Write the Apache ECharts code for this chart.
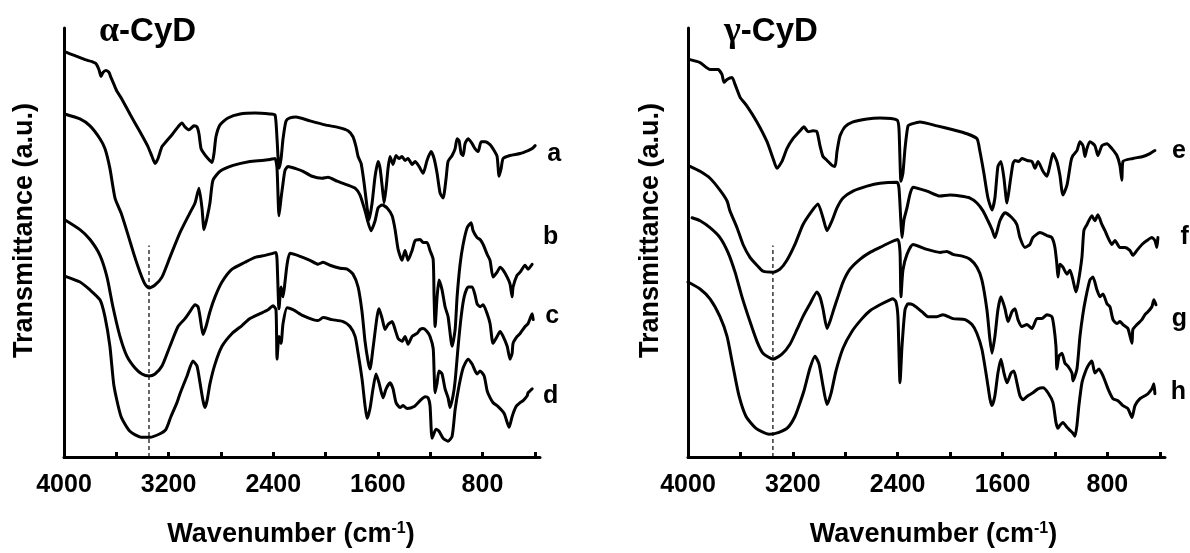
<!DOCTYPE html>
<html>
<head>
<meta charset="utf-8">
<script src="https://cdn.jsdelivr.net/npm/echarts@6/dist/echarts.min.js"></script>
<style>
  html, body { margin: 0; padding: 0; background: #fff; }
  #chart { width: 1190px; height: 553px; }
</style>
</head>
<body>
<div id="chart"></div>
<script>
// FT-IR spectra, [wavenumber (cm-1), transmittance (a.u., stacked offsets)]
const specA = [[3995,410],[3916,406],[3840,402],[3786,400],[3756,398],[3733,392],[3717,385],[3702,389],[3679,391],[3656,389],[3641,384],[3618,377],[3595,370],[3557,362],[3496,347],[3419,329],[3358,314],[3327,304],[3304,297],[3281,302],[3251,314],[3220,319],[3174,326],[3128,334],[3098,338],[3075,334],[3044,331],[3006,335],[2983,334],[2968,327],[2952,312],[2929,307],[2899,302],[2868,298],[2853,307],[2838,324],[2807,336],[2746,343],[2654,347],[2539,348],[2425,347],[2386,346],[2371,322],[2356,292],[2340,302],[2325,322],[2302,340],[2272,343],[2226,344],[2119,340],[2004,336],[1889,333],[1828,330],[1790,324],[1767,314],[1751,304],[1728,297],[1705,277],[1682,252],[1667,240],[1644,257],[1621,284],[1598,299],[1583,292],[1567,274],[1552,257],[1537,272],[1522,292],[1507,304],[1484,296],[1461,305],[1438,302],[1415,304],[1392,300],[1369,302],[1338,296],[1315,299],[1285,294],[1254,287],[1224,300],[1193,309],[1170,302],[1147,287],[1124,267],[1101,262],[1078,282],[1063,299],[1032,305],[1009,312],[994,322],[979,320],[963,307],[948,305],[933,317],[910,322],[879,317],[857,312],[833,309],[810,319],[780,319],[742,316],[711,310],[688,304],[673,284],[657,292],[642,302],[589,305],[512,307],[451,310],[420,312],[397,315]];

const specB = [[3995,347],[3878,342],[3801,335],[3725,322],[3687,312],[3649,292],[3610,262],[3564,247],[3511,225],[3465,205],[3419,187],[3381,175],[3350,171],[3304,174],[3251,182],[3190,202],[3113,227],[3037,247],[2998,257],[2968,272],[2945,252],[2929,230],[2906,242],[2884,257],[2861,280],[2807,289],[2707,295],[2578,299],[2486,300],[2425,301],[2386,302],[2371,292],[2356,244],[2340,262],[2325,277],[2310,290],[2287,294],[2233,292],[2172,289],[2103,284],[2027,282],[1981,283],[1912,279],[1828,275],[1774,272],[1736,265],[1698,249],[1652,229],[1621,239],[1598,252],[1567,255],[1529,252],[1491,244],[1468,230],[1445,210],[1415,199],[1392,209],[1369,199],[1338,209],[1315,219],[1277,220],[1254,217],[1224,217],[1201,209],[1177,200],[1170,162],[1162,132],[1147,162],[1132,179],[1109,169],[1086,152],[1063,142],[1032,112],[1009,129],[994,162],[971,195],[948,215],[917,232],[887,237],[872,229],[841,222],[818,220],[795,215],[764,205],[742,199],[719,182],[688,187],[665,192],[642,189],[611,182],[589,175],[573,162],[566,172],[535,184],[512,187],[474,194],[451,190],[420,195]];

const specC = [[3995,240],[3878,230],[3801,220],[3725,204],[3671,182],[3626,152],[3572,122],[3519,102],[3457,90],[3404,84],[3350,82],[3304,84],[3251,92],[3190,112],[3128,132],[3075,140],[3037,147],[2998,154],[2975,152],[2960,142],[2937,124],[2914,132],[2884,147],[2845,162],[2792,177],[2715,190],[2616,197],[2539,202],[2463,204],[2402,206],[2379,207],[2371,200],[2356,150],[2340,172],[2325,162],[2310,177],[2294,195],[2272,206],[2195,203],[2119,199],[2057,195],[2019,197],[1966,194],[1889,191],[1835,190],[1790,185],[1751,172],[1721,147],[1698,117],[1675,97],[1660,89],[1637,110],[1606,142],[1591,150],[1567,140],[1545,129],[1522,134],[1491,137],[1468,129],[1445,120],[1415,117],[1392,122],[1369,114],[1338,122],[1300,125],[1277,129],[1254,130],[1224,127],[1201,122],[1177,110],[1170,87],[1162,65],[1147,75],[1132,87],[1109,84],[1086,69],[1063,60],[1048,50],[1025,62],[1009,77],[986,112],[963,142],[940,162],[910,172],[879,172],[857,164],[841,155],[818,152],[795,154],[764,145],[742,135],[719,115],[688,122],[665,127],[642,122],[611,112],[589,99],[573,105],[566,115],[535,122],[512,125],[474,132],[451,135],[420,145],[412,139]];

const specD = [[3995,183],[3878,177],[3801,169],[3725,159],[3687,142],[3649,112],[3618,72],[3564,41],[3496,26],[3411,20],[3343,20],[3274,23],[3220,28],[3182,41],[3136,55],[3113,64],[3059,82],[3014,97],[2983,92],[2960,75],[2937,57],[2922,50],[2906,57],[2884,74],[2845,94],[2792,112],[2715,125],[2639,133],[2578,140],[2501,145],[2440,149],[2402,153],[2379,149],[2371,99],[2356,122],[2340,115],[2325,135],[2294,151],[2249,149],[2172,143],[2096,139],[2057,138],[2019,141],[1950,139],[1866,137],[1813,132],[1774,122],[1751,105],[1721,79],[1698,52],[1682,39],[1660,49],[1637,69],[1614,84],[1591,75],[1560,60],[1537,69],[1507,75],[1484,69],[1461,55],[1430,50],[1407,52],[1377,49],[1323,51],[1277,57],[1239,61],[1216,60],[1201,52],[1185,19],[1155,28],[1132,26],[1101,19],[1063,16],[1032,21],[1009,48],[979,72],[948,90],[910,99],[879,94],[841,84],[818,87],[787,82],[764,67],[742,60],[719,55],[680,51],[634,44],[611,35],[596,30],[573,41],[543,51],[512,55],[489,57],[458,62],[451,65],[420,69]];

const specE = [[3985,402],[3908,399],[3832,392],[3771,392],[3741,387],[3725,379],[3702,382],[3664,384],[3641,377],[3618,369],[3603,364],[3550,355],[3474,339],[3397,319],[3351,302],[3321,292],[3283,299],[3245,312],[3199,322],[3145,330],[3115,334],[3084,329],[3046,330],[3016,329],[2993,315],[2970,304],[2939,300],[2901,295],[2878,294],[2863,309],[2840,325],[2802,334],[2741,339],[2634,342],[2535,343],[2405,341],[2390,332],[2375,279],[2360,287],[2344,312],[2321,335],[2291,337],[2230,339],[2100,335],[1978,331],[1871,327],[1795,322],[1772,309],[1742,287],[1711,262],[1680,250],[1658,262],[1635,294],[1612,299],[1589,282],[1566,257],[1543,277],[1520,297],[1505,300],[1474,299],[1452,302],[1413,300],[1375,299],[1352,292],[1329,299],[1291,289],[1261,284],[1238,295],[1215,307],[1185,299],[1162,285],[1139,265],[1108,275],[1078,299],[1063,305],[1032,310],[1009,319],[986,315],[971,304],[956,312],[933,319],[895,315],[872,305],[841,315],[803,317],[765,312],[727,305],[704,295],[689,280],[681,299],[605,302],[528,304],[475,307],[437,310]];

const specF = [[3985,294],[3908,289],[3832,282],[3756,270],[3702,259],[3680,249],[3626,232],[3580,215],[3527,202],[3474,194],[3428,188],[3351,187],[3298,190],[3245,199],[3184,215],[3123,235],[3054,249],[3008,256],[2970,242],[2939,229],[2901,239],[2863,252],[2817,262],[2741,269],[2634,274],[2535,277],[2405,278],[2390,272],[2375,237],[2367,222],[2352,240],[2329,252],[2306,266],[2283,273],[2176,269],[2077,264],[2001,265],[1924,264],[1848,262],[1795,257],[1749,249],[1711,239],[1680,230],[1658,222],[1620,239],[1581,247],[1528,242],[1490,235],[1467,222],[1429,212],[1391,215],[1368,222],[1314,227],[1261,224],[1223,222],[1200,212],[1185,195],[1177,182],[1162,195],[1139,192],[1108,185],[1085,189],[1062,179],[1040,167],[1024,175],[994,202],[979,229],[956,235],[918,244],[895,239],[872,245],[841,235],[818,229],[795,222],[765,215],[742,219],[704,212],[666,212],[628,209],[605,204],[574,209],[536,215],[498,219],[460,222],[437,219],[422,212],[414,222]];

const specG = [[3969,242],[3908,239],[3832,232],[3756,222],[3695,207],[3641,187],[3588,162],[3527,137],[3474,117],[3428,105],[3351,99],[3283,104],[3222,114],[3168,129],[3123,142],[3069,155],[3016,167],[2993,162],[2970,150],[2939,130],[2917,137],[2886,150],[2856,162],[2817,177],[2764,190],[2688,200],[2611,207],[2535,212],[2459,217],[2398,220],[2382,207],[2375,162],[2360,189],[2329,205],[2283,215],[2176,210],[2077,207],[2024,208],[1978,205],[1901,203],[1848,200],[1795,192],[1757,179],[1719,149],[1696,119],[1680,105],[1658,122],[1635,149],[1612,162],[1581,150],[1558,137],[1528,147],[1505,150],[1482,139],[1452,132],[1413,134],[1375,130],[1337,140],[1299,140],[1261,144],[1223,142],[1208,132],[1192,112],[1185,89],[1169,102],[1146,105],[1124,95],[1101,92],[1070,85],[1062,77],[1032,89],[1009,122],[986,145],[963,162],[933,179],[910,182],[879,169],[856,162],[833,165],[803,155],[780,152],[757,139],[727,135],[704,137],[681,134],[643,130],[612,115],[605,129],[574,134],[536,139],[513,144],[490,147],[460,152],[445,159],[429,154]];

const specH = [[4000,177],[3908,170],[3832,160],[3756,142],[3702,122],[3657,92],[3611,62],[3557,41],[3481,29],[3382,23],[3306,25],[3237,30],[3184,41],[3145,55],[3115,67],[3069,90],[3031,102],[3000,94],[2970,72],[2939,53],[2909,64],[2871,87],[2817,110],[2749,127],[2672,140],[2611,148],[2535,154],[2459,159],[2436,160],[2413,157],[2398,142],[2382,75],[2367,112],[2344,149],[2321,155],[2283,154],[2215,147],[2169,142],[2100,142],[2054,144],[1978,140],[1886,139],[1833,134],[1795,125],[1757,109],[1719,79],[1696,59],[1680,52],[1658,62],[1635,85],[1612,99],[1589,85],[1566,75],[1535,85],[1513,87],[1490,75],[1467,62],[1444,58],[1406,62],[1368,65],[1329,69],[1291,70],[1253,65],[1215,55],[1192,35],[1177,29],[1162,32],[1139,35],[1108,30],[1085,27],[1062,24],[1047,21],[1032,32],[1017,52],[994,75],[971,85],[948,92],[918,97],[895,85],[864,89],[833,82],[795,69],[757,59],[719,57],[681,52],[643,49],[612,40],[589,52],[551,59],[513,62],[490,64],[460,69],[445,74],[437,64]];

// O-H stretch reference position (dashed guide)
const ohLeft = [[3350,0],[3350,214]];
const ohRight = [[3352,0],[3352,214]];

const tickValues = [4000,3600,3200,2800,2400,2000,1600,1200,800,400];
const labelValues = [4000,3200,2400,1600,800];
const panelTitles = ['α', 'γ'];

const FONT = '"Liberation Sans", Arial, sans-serif';

function xAxisFor(gi, namePad) {
  return {
    type: 'value', gridIndex: gi, inverse: true, min: 360, max: 4000,
    axisLine: { show: true, onZero: false, lineStyle: { color: '#000', width: 3 } },
    axisTick: { show: true, inside: true, length: 5, customValues: tickValues,
                lineStyle: { color: '#000', width: 3 } },
    axisLabel: { customValues: labelValues, formatter: v => String(v),
                 color: '#000', fontSize: 25, fontWeight: 'bold', fontFamily: FONT, margin: 16 },
    splitLine: { show: false },
    name: 'Wavenumber (cm{sup|-1})', nameLocation: 'middle', nameGap: 64,
    nameTextStyle: {
      color: '#000', fontSize: 27, fontWeight: 'bold', fontFamily: FONT, padding: namePad,
      rich: { sup: { fontSize: 16, fontWeight: 'bold', fontFamily: FONT, color: '#000',
                     verticalAlign: 'top', padding: [0, 0, 11, 0] } }
    }
  };
}
function yAxisFor(gi, gap) {
  return {
    type: 'value', gridIndex: gi, min: 0, max: 434,
    axisLine: { show: true, lineStyle: { color: '#000', width: 3 } },
    axisTick: { show: false }, axisLabel: { show: false }, splitLine: { show: false },
    name: 'Transmittance (a.u.)', nameLocation: 'middle', nameGap: gap,
    nameTextStyle: { color: '#000', fontSize: 27, fontWeight: 'bold', fontFamily: FONT,
                     padding: [0, 0, 0, 24] }
  };
}
function spectrum(name, data, gi, dx, dy) {
  return {
    type: 'line', name: name, data: data, xAxisIndex: gi, yAxisIndex: gi,
    showSymbol: false, symbol: 'none', smooth: 0.2,
    lineStyle: { color: '#000', width: 3, join: 'round', cap: 'round' },
    endLabel: { show: true, formatter: '{a}', color: '#000', fontSize: 25, fontWeight: 'bold',
                fontFamily: FONT, distance: 12, offset: [dx, dy] },
    z: 3
  };
}
function guide(data, gi) {
  return {
    type: 'line', data: data, xAxisIndex: gi, yAxisIndex: gi,
    showSymbol: false, symbol: 'none',
    lineStyle: { color: '#000', width: 1.2, type: [4, 3] }, z: 2
  };
}

const chart = echarts.init(document.getElementById('chart'), null, { renderer: 'canvas' });
chart.setOption({
  animation: false,
  backgroundColor: '#fff',
  title: panelTitles.map((g, i) => ({
    text: '{g|' + g + '}{b|-CyD}',
    left: i === 0 ? 94 : 719, top: 9,
    textStyle: { rich: {
      g: { fontSize: 36, fontFamily: '"Liberation Serif", serif', color: '#000' },
      b: { fontSize: 33, fontWeight: 'bold', fontFamily: FONT, color: '#000' }
    } }
  })),
  grid: [
    { left: 64, right: 650, top: 28, bottom: 91 },
    { left: 688, right: 25, top: 28, bottom: 91 }
  ],
  xAxis: [xAxisFor(0, [0, 22, 0, 0]), xAxisFor(1, [0, 0, 0, 14])],
  yAxis: [yAxisFor(0, 26), yAxisFor(1, 24)],
  series: [
    guide(ohLeft, 0), guide(ohRight, 1),
    spectrum('a', specA, 0, 38, 8), spectrum('b', specB, 0, 38, -27),
    spectrum('c', specC, 0, 38, -3), spectrum('d', specD, 0, 38, 7),
    spectrum('e', specE, 1, 43, 1), spectrum('f', specF, 1, 43, 0),
    spectrum('g', specG, 1, 43, 14), spectrum('h', specH, 1, 43, -2)
  ]
});
</script>
</body>
</html>
